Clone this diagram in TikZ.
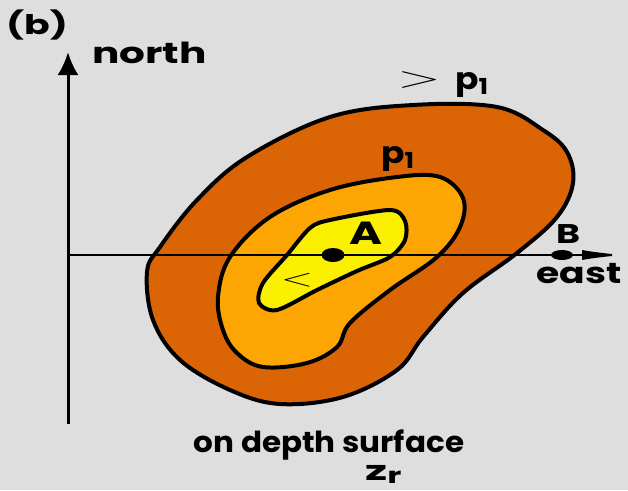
\RequirePackage{fix-cm}
\documentclass[tikz,border=0pt]{standalone}
\usepackage{fontspec}
\setmainfont{Poppins}
\usetikzlibrary{arrows.meta,shapes.geometric}

\definecolor{bggray}{RGB}{222,222,222}
\definecolor{darkorng}{RGB}{219,100,5}
\definecolor{midorng}{RGB}{253,165,2}
\definecolor{coreyel}{RGB}{250,240,0}

% 横に広げた文字
\newcommand{\wide}[2]{\scalebox{#1}[1]{#2}}

\begin{document}
\begin{tikzpicture}[x=1pt,y=-1pt,
    contour/.style={line width=4pt, line join=round},
    axis/.style={line width=2pt},
    lbl/.style={inner sep=0pt, anchor=base, font=\bfseries\fontsize{29}{29}\selectfont},
    dot/.style={ellipse, fill=black, inner sep=0pt}]

    % 背景
    \fill [bggray] (0,0) rectangle (628,490);
    \useasboundingbox (0,0) rectangle (628,490);

    % 等値線の描画
    \draw [contour, fill=darkorng] plot [smooth cycle, tension=0.6] coordinates {
        (147,272) (160,247) (197,200) (247,157) (330,117) (413,105)
        (497,107) (543,130) (567,152) (573,183) (557,217) (517,253)
        (463,293) (423,337) (397,370) (343,397) (280,404) (230,390)
        (180,360) (153,320)};
    \draw [contour, fill=midorng] plot [smooth cycle, tension=0.6] coordinates {
        (218,297) (230,257) (270,217) (330,190) (397,177) (440,177)
        (463,198) (460,227) (437,257) (390,290) (350,323) (337,347)
        (307,363) (263,367) (237,353) (223,330)};
    \draw [contour, fill=coreyel] plot [smooth cycle, tension=0.5] coordinates {
        (259,303) (263,283) (287,255) (310,228) (330,220) (390,210)
        (405,221) (405,240) (390,257) (357,271) (317,290) (277,310)};

    % 座標軸
    \coordinate (O) at (68,255);
    \coordinate (Obot) at (68,424);
    \coordinate (N) at (68,52);
    \coordinate (E) at (625,255);
    \draw [line width=3pt] (Obot) -- (O);
    \draw [line width=3pt, -{Latex[length=23pt, width=21pt]}] (O) -- (N);
    \draw [axis, -{Latex[length=43pt, width=10pt]}] (O) -- (E);

    % 点の描画
    \node [dot, minimum width=23pt, minimum height=14pt] (A) at (333,255) {};
    \node [dot, minimum width=22pt, minimum height=10pt] (B) at (562,255) {};

    % ラベル
    \node [lbl, font=\bfseries\fontsize{27}{27}\selectfont] (lb) at (37,34) {\wide{1.4}{(b)}};
    \node [lbl, anchor=base west] (lnorth) at (92,63) {\wide{1.4}{north}};
    \node [lbl, font=\fontsize{30}{30}\selectfont, anchor=center] (lgt) at (419,80) {\wide{1.9}{$>$}};
    \node [lbl, anchor=base west, font=\bfseries\fontsize{30}{30}\selectfont] (lpout) at (455,89)
        {\wide{1.15}{p}\raisebox{-5pt}{\fontsize{22}{22}\selectfont\wide{1.15}{1}}};
    \node [lbl, anchor=base west, font=\bfseries\fontsize{30}{30}\selectfont] (lpin) at (381,163)
        {\wide{1.15}{p}\raisebox{-5pt}{\fontsize{22}{22}\selectfont\wide{1.15}{1}}};
    \node [lbl, font=\bfseries\fontsize{32}{32}\selectfont] (lA) at (366,244) {\wide{1.4}{A}};
    \node [lbl, font=\fontsize{25}{25}\selectfont, anchor=center] (llt) at (297,280) {\wide{1.7}{$<$}};
    \node [lbl, font=\bfseries\fontsize{27}{27}\selectfont] (lB) at (568,243) {\wide{1.35}{B}};
    \node [lbl] (least) at (579,283) {\wide{1.3}{east}};
    \node [lbl] (lsurf) at (329,452) {\wide{1.07}{on depth surface}};
    \node [lbl, anchor=base west, font=\bfseries\fontsize{27}{27}\selectfont] (lz) at (365,480)
        {\wide{1.65}{z}\raisebox{-3pt}{\fontsize{22}{22}\selectfont\wide{1.5}{r}}};

\end{tikzpicture}
\end{document}
